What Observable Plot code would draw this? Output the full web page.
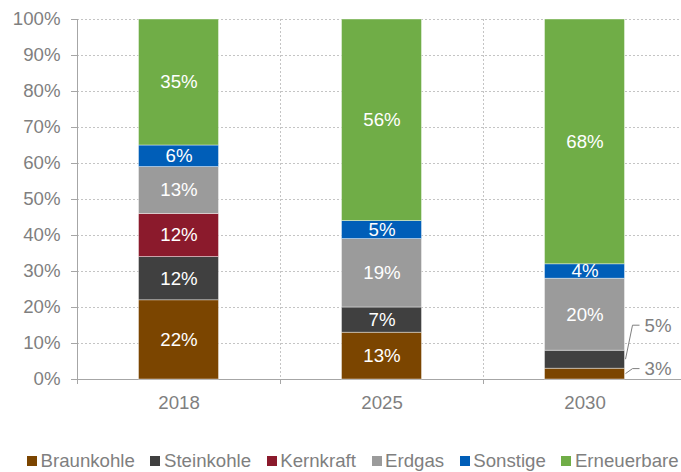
<!DOCTYPE html>
<html>
<head>
<meta charset="utf-8">
<script src="https://cdn.jsdelivr.net/npm/d3@7"></script>
<script src="https://cdn.jsdelivr.net/npm/@observablehq/plot@0.6"></script>
<style>
  html, body { margin: 0; padding: 0; background: #ffffff; overflow: hidden; }
  #chart svg { display: block; }
  #legend {
    display: flex; align-items: center; gap: 15.6px;
    padding-left: 27px; height: 21px; line-height: 21px;
    font-family: "Liberation Sans", Arial, sans-serif; font-size: 18.67px; color: #7f7f7f;
    white-space: nowrap;
  }
  #legend .item { display: flex; align-items: center; }
  #legend .sw { display: inline-block; width: 10px; height: 10px; margin-right: 3.5px; }
</style>
</head>
<body>
<div id="chart"></div>
<div id="legend"></div>
<script>
// ---- data ----
const years = ["2018", "2025", "2030"];
const sources = ["Braunkohle", "Steinkohle", "Kernkraft", "Erdgas", "Sonstige", "Erneuerbare"];
const colors = ["#7b4500", "#404040", "#8b1a2c", "#9b9b9b", "#005eb8", "#70ad47"];
const share2018 = [22, 12, 12, 13, 6, 35];
const share2025 = [13, 7, 0, 19, 5, 56];
const share2030 = [3, 5, 0, 20, 4, 68];
const yTicks = [0, 10, 20, 30, 40, 50, 60, 70, 80, 90, 100];
// segments whose labels sit outside the bar (year, source)
const outsideLabels = [["2030", "Steinkohle"], ["2030", "Braunkohle"]];

// ---- styles ----
const axisGray = "#a6a6a6";
const gridGray = "#c4c4c4";
const textGray = "#7f7f7f";
const barInset = 61.5;
const calloutRise = { Steinkohle: 34, Braunkohle: 5 };

const shares = { "2018": share2018, "2025": share2025, "2030": share2030 };
const isOutside = (y, s) => outsideLabels.some(([a, b]) => a === y && b === s);
const rows = [];
for (const y of years) {
  sources.forEach((s, i) => {
    const v = shares[y][i];
    if (v > 0) rows.push({ year: y, source: s, value: v, inside: !isOutside(y, s) });
  });
}

const chart = Plot.plot({
  width: 681,
  height: 450,
  marginLeft: 77,
  marginRight: 0,
  marginTop: 19,
  marginBottom: 71,
  style: {
    fontFamily: "'Liberation Sans', Arial, sans-serif",
    fontSize: "18.67px",
    color: textGray,
    background: "white",
    overflow: "visible"
  },
  x: { type: "band", domain: years, range: [77, 686], padding: 0, tickSize: 0, tickPadding: 16, label: null },
  y: { domain: [0, 100], ticks: yTicks, tickSize: 6, tickPadding: 11, tickFormat: d => d + "%", label: null },
  color: { domain: sources, range: colors },
  marks: [
    Plot.ruleY(yTicks.filter(d => d > 0), { stroke: gridGray, strokeDasharray: "2,2" }),
    Plot.ruleX(years.slice(1), { x: d => d, dx: -101.5, stroke: gridGray, strokeDasharray: "2,2" }),
    Plot.ruleX(years.slice(1), { x: d => d, dx: -101.5, stroke: axisGray, insetTop: 360, insetBottom: -5 }),
    Plot.ruleX(years.slice(0, 1), { x: d => d, dx: -101.5, stroke: axisGray, insetBottom: -5 }),
    Plot.ruleY([0], { stroke: axisGray }),
    Plot.barY(rows, {
      x: "year", y: "value", fill: "source",
      insetLeft: barInset, insetRight: barInset,
      stroke: "white", strokeOpacity: 0.55, strokeWidth: 0.75
    }),
    Plot.text(rows, Plot.stackY({
      x: "year", y: "value",
      text: d => d.inside ? d.value + "%" : "",
      fill: "white", fontSize: 18.67
    }))
  ]
});

document.getElementById("chart").appendChild(chart);

// axis tick colour
d3.select(chart).selectAll('[aria-label="y-axis tick"] path, [aria-label="y-axis"] path').attr("stroke", axisGray);

// ---- callouts for small segments, positioned through the plot's scales ----
const xs = chart.scale("x");
const ys = chart.scale("y");
const g = d3.select(chart).append("g").attr("aria-label", "callouts").attr("text-anchor", "start");
for (const [yr, src] of outsideLabels) {
  const yrRows = rows.filter(r => r.year === yr);
  let cum = 0, mid = 0, val = 0;
  for (const r of yrRows) {
    if (r.source === src) { mid = cum + r.value / 2; val = r.value; }
    cum += r.value;
  }
  const bx = xs.apply(yr) + xs.bandwidth - barInset;
  const ym = ys.apply(mid);
  const ly = ym - calloutRise[src];
  g.append("path")
    .attr("d", `M${bx + 1},${ym}L${bx + 8},${ly}L${bx + 15},${ly}`)
    .attr("fill", "none").attr("stroke", textGray).attr("stroke-width", 1);
  g.append("text")
    .attr("x", bx + 20).attr("y", ly).attr("dy", "0.35em")
    .attr("text-anchor", "start")
    .attr("fill", textGray).attr("stroke", "white").attr("stroke-width", 4)
    .attr("paint-order", "stroke")
    .style("font-size", "18.67px")
    .text(val + "%");
}

// ---- legend ----
const legend = d3.select("#legend");
sources.forEach((s, i) => {
  const it = legend.append("div").attr("class", "item");
  it.append("span").attr("class", "sw").style("background", colors[i]);
  it.append("span").text(s);
});
</script>
</body>
</html>
